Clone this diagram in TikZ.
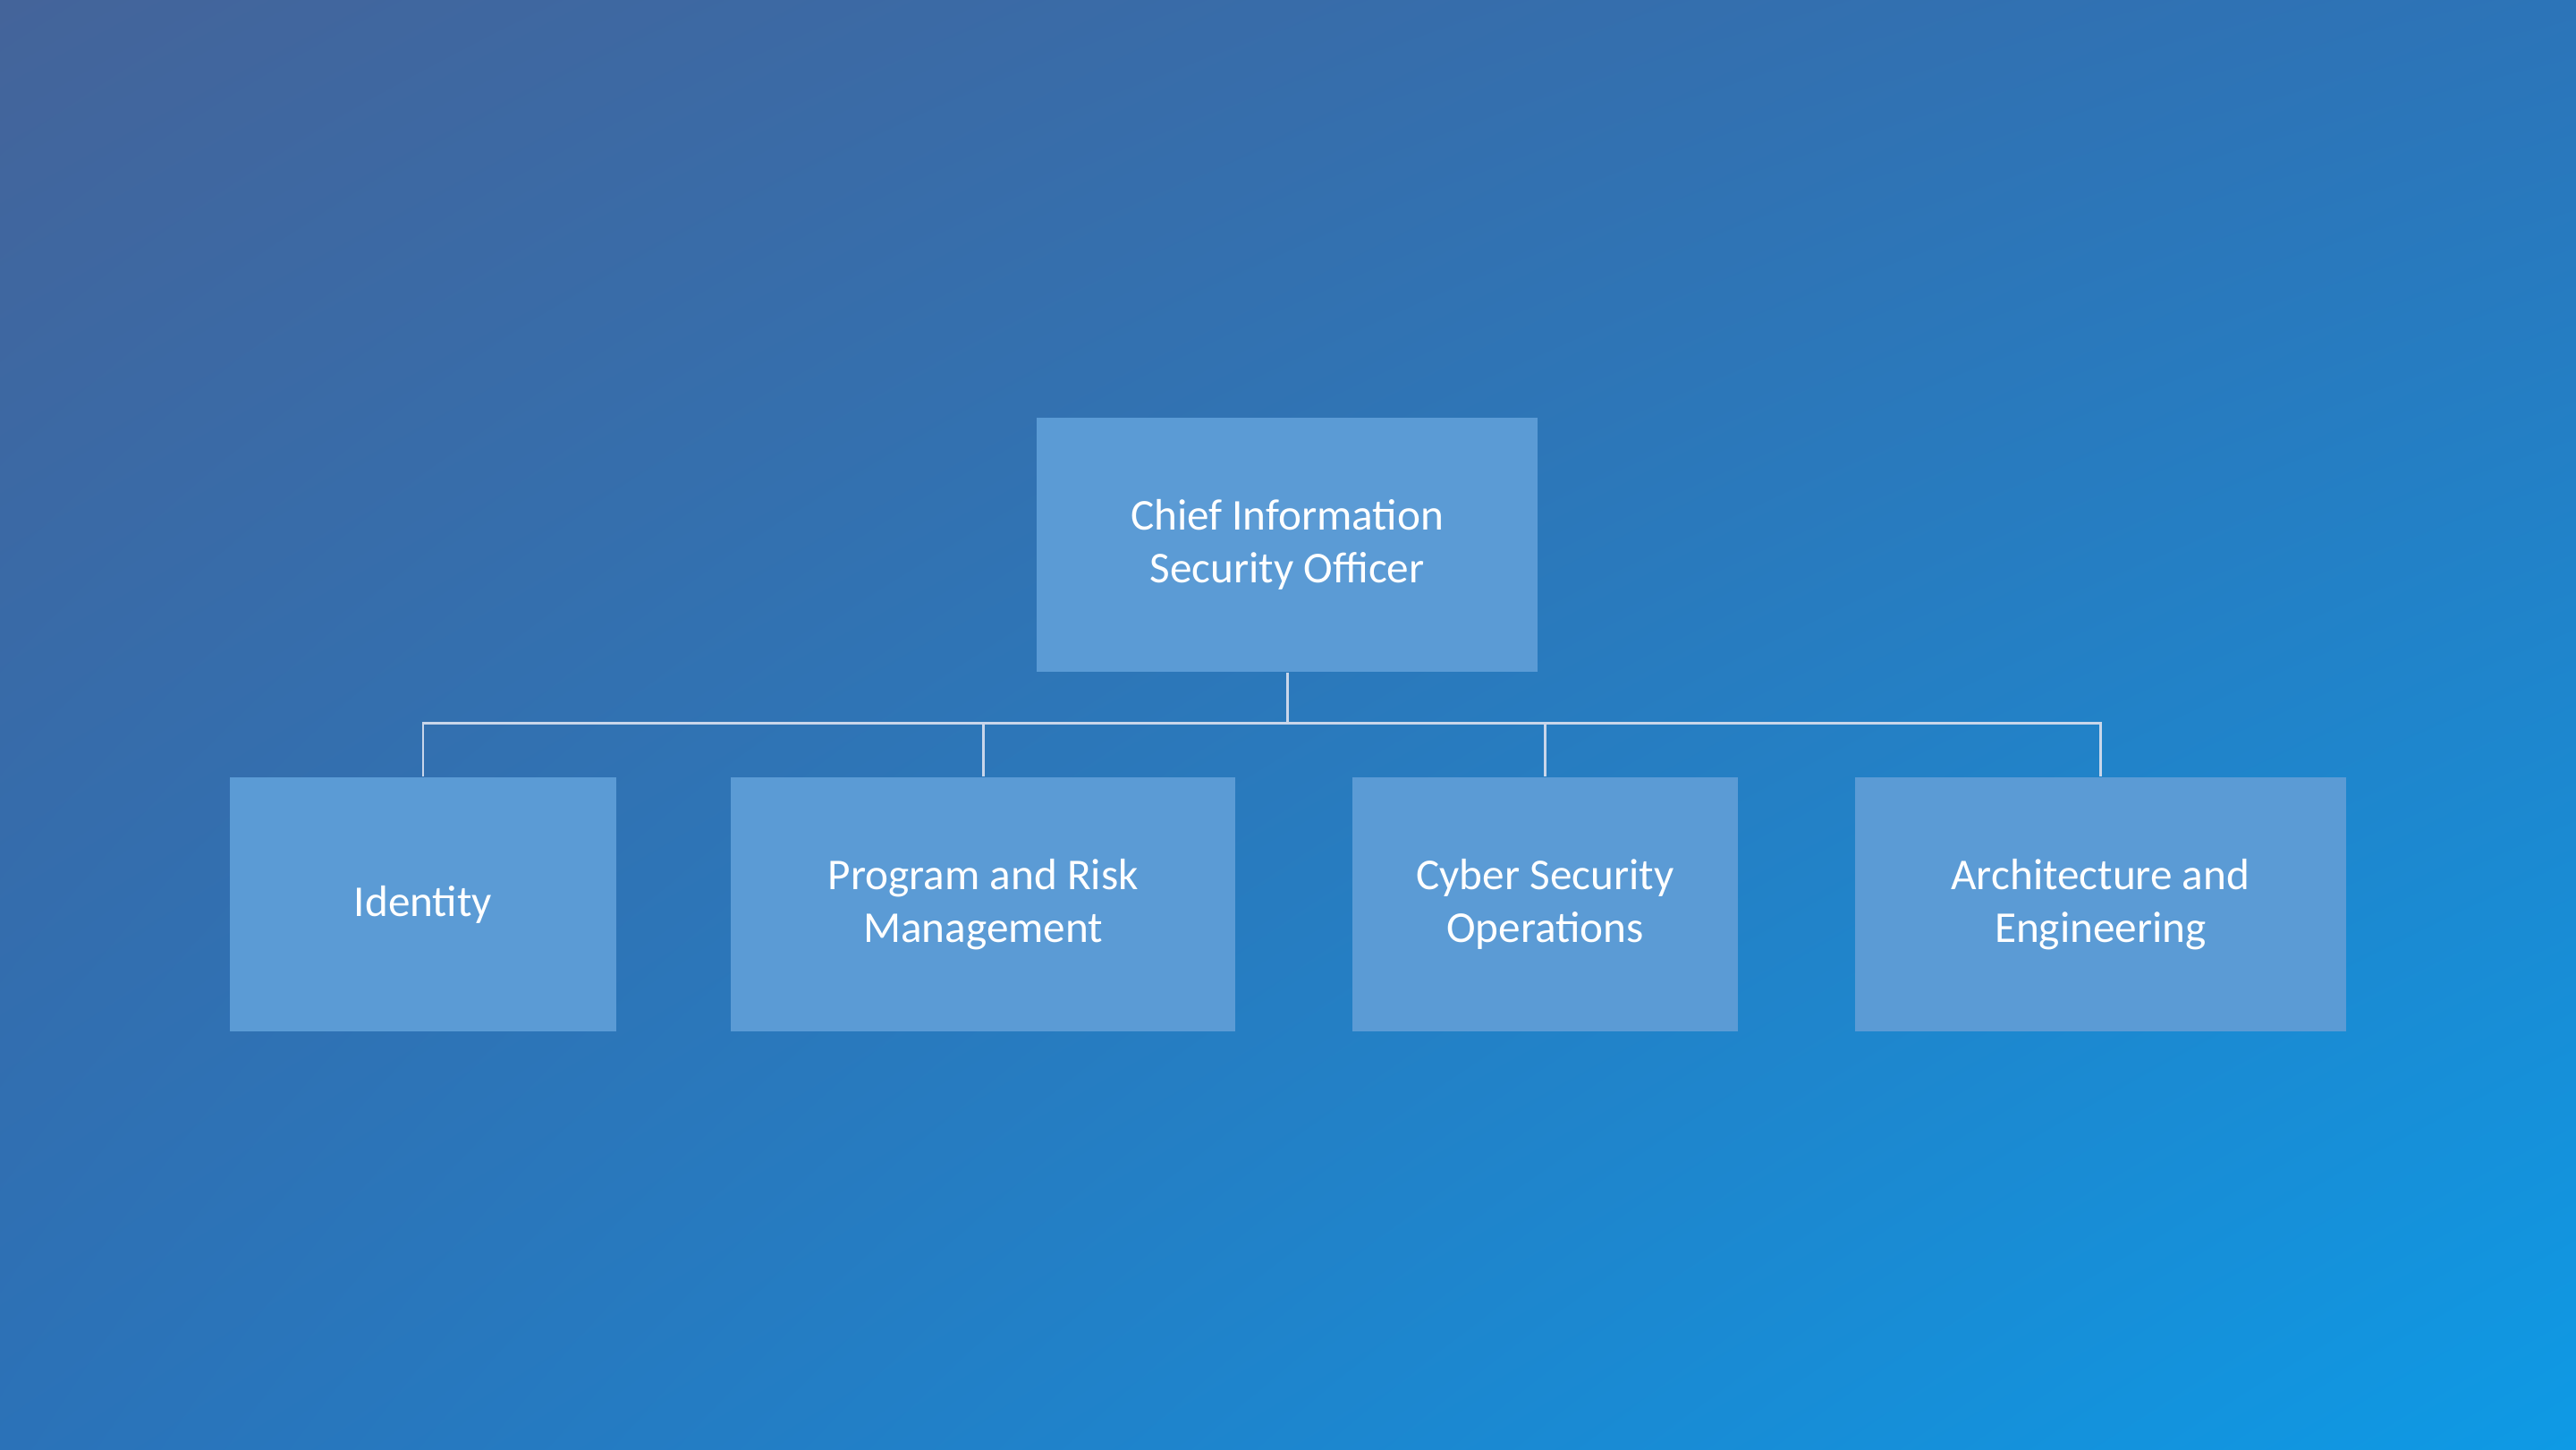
\documentclass[tikz,border=0pt]{standalone}
\usetikzlibrary{shadings}
\usepackage{fontspec}
\setmainfont{Carlito}
\definecolor{boxc}{HTML}{5B9BD5}
\definecolor{linec}{HTML}{C9D6EA}
\definecolor{bgul}{RGB}{68,100,154}
\definecolor{bgur}{RGB}{44,116,184}
\definecolor{bgll}{RGB}{43,114,184}
\definecolor{bglr}{RGB}{14,154,229}
\begin{document}
\begin{tikzpicture}[x=0.018367cm,y=-0.018367cm,
  box/.style={fill=boxc,draw=none,text=white,align=center,inner sep=0pt,minimum height=155*0.018367cm,font=\fontsize{14}{16.7}\selectfont},
  conn/.style={draw=linec,line width=0.8pt}]
\shade[upper left=bgul,upper right=bgur,lower left=bgll,lower right=bglr]
 (0,0) rectangle (1568,882);
\useasboundingbox (0,0) rectangle (1568,882);
\node[box,minimum width=305*0.018367cm] (ciso) at (783.5,331.5) {Chief Information\\Security Officer};
\node[box,minimum width=235*0.018367cm] (id) at (257.5,550.5) {Identity};
\node[box,minimum width=307*0.018367cm] (prm) at (598.5,550.5) {Program and Risk\\Management};
\node[box,minimum width=235*0.018367cm] (cso) at (940.5,550.5) {Cyber Security\\Operations};
\node[box,minimum width=299*0.018367cm] (ae) at (1278.5,550.5) {Architecture and\\Engineering};
\coordinate (bus) at (783.5,440);
\draw[conn] (ciso.south) -- (bus);
\foreach \n in {id,prm,cso,ae}{\draw[conn] (\n.north) |- (bus);}
\end{tikzpicture}
\end{document}
